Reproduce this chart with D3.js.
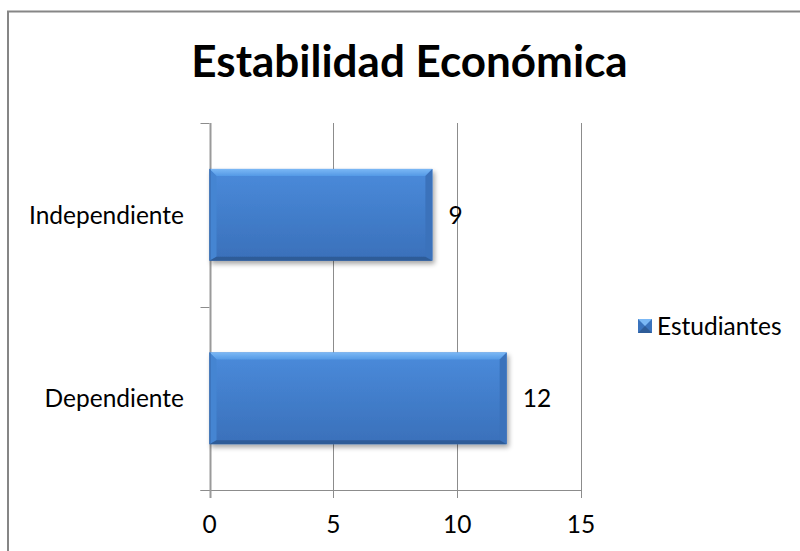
<!DOCTYPE html>
<html><head><meta charset="utf-8">
<script src="https://cdn.jsdelivr.net/npm/d3@7/dist/d3.min.js"></script>
<style>html,body{margin:0;padding:0;background:#fff;}svg{display:block;font-family:Lato,"Open Sans",sans-serif;}</style>
</head><body>
<svg id="c" width="800" height="551"></svg>
<script>
const title = "Estabilidad Económica";
const categories = ["Independiente", "Dependiente"];
const values = [9, 12];
const seriesName = "Estudiantes";
const xTicks = [0, 5, 10, 15];

const svg = d3.select("#c");
const plot = {left: 209.5, right: 581, top: 123, bottom: 490};
const FS = 24.5;

const defs = svg.append("defs");
const g1 = defs.append("linearGradient").attr("id","body").attr("x1",0).attr("y1",0).attr("x2",0).attr("y2",1);
g1.append("stop").attr("offset","0").attr("stop-color","#4a8bdb");
g1.append("stop").attr("offset","1").attr("stop-color","#3a70ba");
const gTop = defs.append("linearGradient").attr("id","topb").attr("x1",0).attr("y1",0).attr("x2",0).attr("y2",1);
gTop.append("stop").attr("offset","0").attr("stop-color","#7bb8f5");
gTop.append("stop").attr("offset","1").attr("stop-color","#559ae6");
const flt = defs.append("filter").attr("id","sh").attr("x","-10%").attr("y","-10%").attr("width","130%").attr("height","140%");
flt.append("feGaussianBlur").attr("in","SourceAlpha").attr("stdDeviation",2.5).attr("result","b");
flt.append("feOffset").attr("in","b").attr("dx",2).attr("dy",3).attr("result","o");
flt.append("feComponentTransfer").attr("in","o").attr("result","o2").append("feFuncA").attr("type","linear").attr("slope",0.35);
const fm = flt.append("feMerge");
fm.append("feMergeNode").attr("in","o2");
fm.append("feMergeNode").attr("in","SourceGraphic");

// frame
svg.append("rect").attr("x",8).attr("y",11.5).attr("width",1000).attr("height",1000)
  .attr("fill","none").attr("stroke","#868686").attr("stroke-width",2);

const x = d3.scaleLinear().domain([0, 15]).range([plot.left, plot.right]);
const y = d3.scaleBand().domain(categories).range([plot.top, plot.bottom]).paddingInner(0.5).paddingOuter(0.25);
const yb = d3.scaleBand().domain(categories).range([plot.top, plot.bottom]);

const grid = "#8c8c8c";
svg.append("g").selectAll("line").data(xTicks).join("line")
  .attr("x1", d => Math.round(x(d)) + 0.5).attr("x2", d => Math.round(x(d)) + 0.5)
  .attr("y1", plot.top).attr("y2", plot.bottom + 8)
  .attr("stroke", grid).attr("stroke-width", 1);
svg.append("line").attr("x1", plot.left - 9).attr("x2", x(15) + 0.5)
  .attr("y1", plot.bottom + 0.5).attr("y2", plot.bottom + 0.5).attr("stroke", grid);
const catBounds = [plot.top, yb(categories[1]), plot.bottom];
svg.append("g").selectAll("line").data(catBounds).join("line")
  .attr("x1", plot.left - 9).attr("x2", plot.left)
  .attr("y1", d => Math.round(d) + 0.5).attr("y2", d => Math.round(d) + 0.5)
  .attr("stroke", grid);
svg.append("line").attr("x1", Math.round(plot.left)+0.5).attr("x2", Math.round(plot.left)+0.5)
  .attr("y1", plot.top).attr("y2", plot.bottom + 8).attr("stroke", "#9a9a9a").attr("stroke-width", 2);

svg.append("g").selectAll("text").data(xTicks).join("text")
  .attr("x", d => x(d)).attr("y", 533).attr("text-anchor","middle")
  .attr("font-size", FS).attr("fill","#000").text(d => d);

function bevelBar(sel, x0, y0, w, h) {
  const b = 7, bb = 4;
  const gg = sel.append("g").attr("filter","url(#sh)");
  gg.append("rect").attr("x",x0).attr("y",y0).attr("width",w).attr("height",h).attr("fill","url(#body)");
  gg.append("path").attr("d",`M${x0},${y0}L${x0+w},${y0}L${x0+w-b},${y0+b}L${x0+b},${y0+b}Z`).attr("fill","url(#topb)");
  gg.append("path").attr("d",`M${x0},${y0}L${x0+b},${y0+b}L${x0+b},${y0+h-bb}L${x0},${y0+h}Z`).attr("fill","#4585d2");
  gg.append("path").attr("d",`M${x0+w},${y0}L${x0+w},${y0+h}L${x0+w-b},${y0+h-bb}L${x0+w-b},${y0+b}Z`).attr("fill","#3b72bb");
  gg.append("path").attr("d",`M${x0},${y0+h}L${x0+w},${y0+h}L${x0+w-b},${y0+h-bb}L${x0+b},${y0+h-bb}Z`).attr("fill","#2e5c98");
  gg.append("line").attr("x1",x0+0.5).attr("x2",x0+0.5).attr("y1",y0).attr("y2",y0+h).attr("stroke","#3566a8").attr("stroke-width",1);
}
const barsG = svg.append("g");
categories.forEach((c, i) => {
  bevelBar(barsG, x(0), y(c), x(values[i]) - x(0), y.bandwidth());
});

svg.append("g").selectAll("text").data(categories).join("text")
  .attr("x", (c, i) => x(values[i]) + 16).attr("y", c => y(c) + y.bandwidth()/2 + 9)
  .attr("font-size", FS).attr("fill","#000").text((c, i) => values[i]);

svg.append("g").selectAll("text").data(categories).join("text")
  .attr("x", 184).attr("y", c => y(c) + y.bandwidth()/2 + 9).attr("text-anchor","end")
  .attr("font-size", FS).attr("fill","#000").text(c => c);

const t = svg.append("text").attr("x", 409.5).attr("y", 77).attr("text-anchor","middle")
  .attr("font-size", 44).attr("font-weight","bold").attr("fill","#000").text(title);
const tl = t.node().getComputedTextLength();
if (tl > 445) t.attr("textLength", 445).attr("lengthAdjust","spacingAndGlyphs");

const lg = svg.append("g");
lg.append("rect").attr("x",638).attr("y",319).attr("width",14).attr("height",14).attr("fill","#3a73bd");
lg.append("path").attr("d","M638,319L652,319L645,326Z").attr("fill","#7bb8f5");
lg.append("path").attr("d","M638,333L652,333L645,326Z").attr("fill","#2e5c98");
lg.append("text").attr("x",657).attr("y",335).attr("font-size",FS).attr("fill","#000").text(seriesName);
</script>
</body></html>
